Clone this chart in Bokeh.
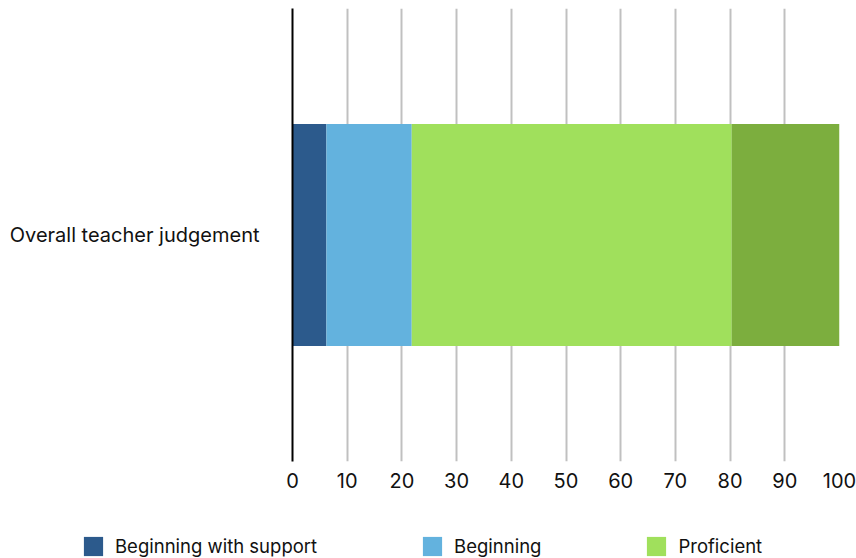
from bokeh.plotting import figure
from bokeh.models import ColumnDataSource, Range1d, FactorRange, Legend, LegendItem, FixedTicker
from bokeh.embed import file_html
from bokeh.resources import INLINE

# Share of students at each level (percent)
categories = ["Overall teacher judgement"]
levels = ["Beginning with support", "Beginning", "Proficient", "Advanced"]
beginning_with_support = [6.2]
beginning = [15.6]
proficient = [58.5]
advanced = [19.7]
colors = ["#2c5a8c", "#63b2de", "#a0e05c", "#7cae3e"]
x_ticks = [0, 10, 20, 30, 40, 50, 60, 70, 80, 90, 100]

FONT = "Inter"
TEXT_COLOR = "#111111"

source = ColumnDataSource(dict(
    cat=categories,
    **{levels[0]: beginning_with_support,
       levels[1]: beginning,
       levels[2]: proficient,
       levels[3]: advanced},
))

# --- main stacked bar chart ---
p = figure(
    width=856, height=500,
    y_range=FactorRange(factors=categories, range_padding=0),
    x_range=Range1d(0, 100),
    output_backend="svg", toolbar_location=None,
    min_border_left=292, min_border_right=17,
    min_border_top=8, min_border_bottom=39,
)
p.outline_line_color = None

p.hbar_stack(levels, y="cat", height=0.49, color=colors,
             line_color=None, source=source)

# vertical grid every 10 percent
p.xaxis.ticker = FixedTicker(ticks=x_ticks)
p.xgrid.ticker = FixedTicker(ticks=x_ticks)
p.xgrid.grid_line_color = "#c0c0c0"
p.xgrid.grid_line_width = 2
p.ygrid.grid_line_color = None

p.xaxis.axis_line_color = None
p.xaxis.major_tick_line_color = None
p.xaxis.minor_tick_line_color = None
p.xaxis.major_label_standoff = 5
p.xaxis.major_label_text_font = FONT
p.xaxis.major_label_text_font_size = "20px"
p.xaxis.major_label_text_color = TEXT_COLOR

p.yaxis.axis_line_color = "black"
p.yaxis.axis_line_width = 2
p.yaxis.major_tick_line_color = None
p.yaxis.minor_tick_line_color = None
p.yaxis.major_label_standoff = 27
p.yaxis.major_label_text_font = FONT
p.yaxis.major_label_text_font_size = "20px"
p.yaxis.major_label_text_color = TEXT_COLOR

# --- legend strip underneath; swatch glyphs sit outside the visible range ---
key = figure(
    width=856, height=58,
    x_range=Range1d(0, 1), y_range=Range1d(0, 1),
    output_backend="svg", toolbar_location=None,
    min_border=0, min_border_left=0, min_border_right=0,
    min_border_top=0, min_border_bottom=0,
)
key.axis.visible = False
key.grid.grid_line_color = None
key.outline_line_color = None
swatches = [key.rect(x=[-5], y=[-5], width=1, height=1, color=c, line_color=None)
            for c in colors[:3]]

# area swatches are inset by 10% per side, so a 24px box gives a ~19px square
legend = Legend(
    items=[LegendItem(label=levels[i], renderers=[swatches[i]]) for i in range(3)],
    orientation="horizontal",
    location=(81, 0),
    glyph_width=24, glyph_height=24,
    label_standoff=10, spacing=103,
    padding=0, margin=0,
    border_line_color=None, background_fill_alpha=0,
    label_text_font=FONT, label_text_font_size="18.5px",
    label_text_color=TEXT_COLOR,
)
key.add_layout(legend)

open("out.html", "w").write(file_html([p, key], INLINE))
